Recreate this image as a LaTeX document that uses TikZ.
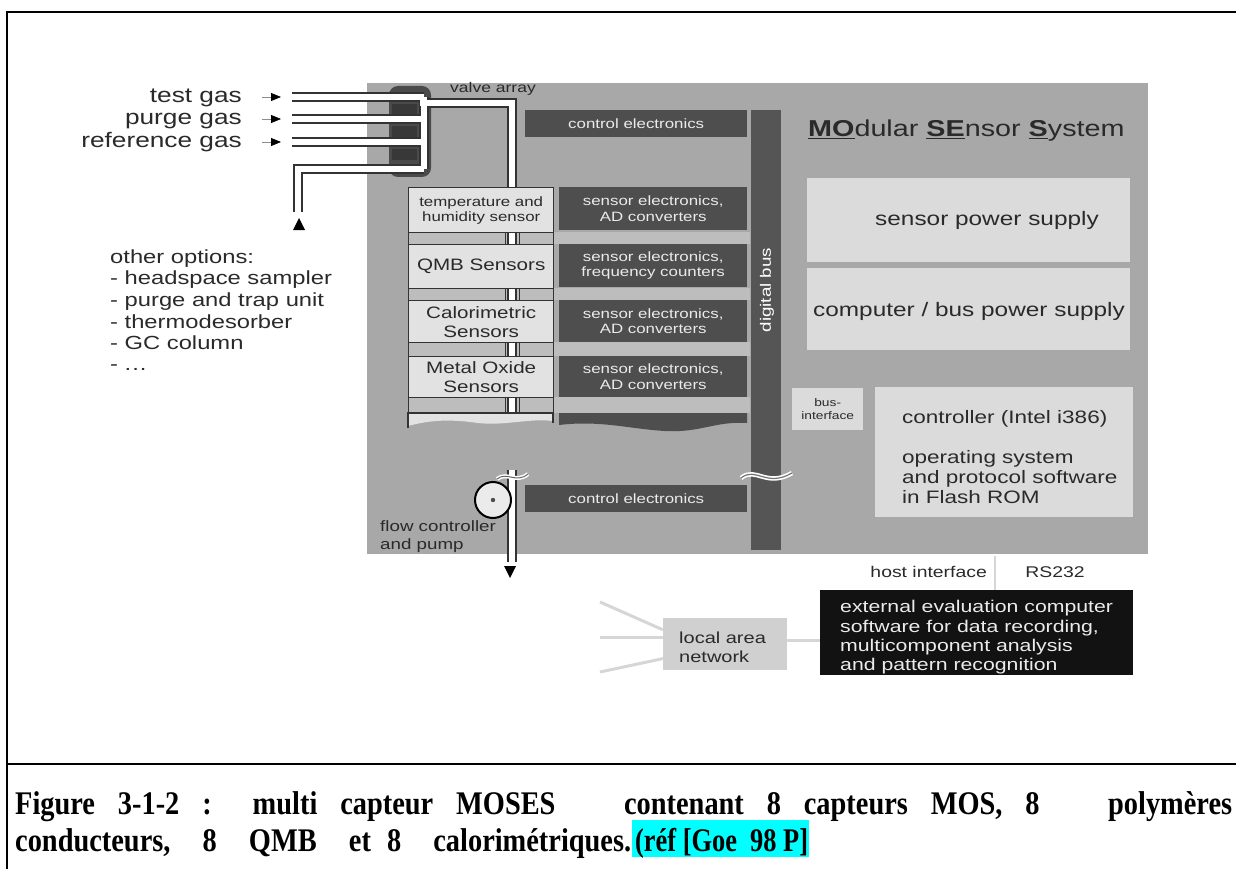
\documentclass[tikz,border=0pt]{standalone}
\usepackage{fontspec}
\setmainfont{Liberation Serif}
\newfontfamily\dfont[FakeStretch=1.25]{Liberation Sans}
\newfontfamily\capfont[FakeStretch=0.86]{Liberation Serif}
\usetikzlibrary{arrows.meta}
\newcommand\dsz[2]{\fontsize{#1pt}{#2pt}\selectfont}
\definecolor{panel}{HTML}{A8A8A8}
\definecolor{lightbox}{HTML}{E2E2E2}
\definecolor{darkbox}{HTML}{4E4E4E}
\definecolor{busc}{HTML}{555555}
\definecolor{band}{HTML}{BDBDBD}
\definecolor{rbox}{HTML}{DBDBDB}
\definecolor{edge}{HTML}{333333}
\definecolor{valvec}{HTML}{4A4A4A}
\definecolor{valvedark}{HTML}{383838}
\definecolor{lanline}{HTML}{D6D6D6}
\definecolor{lanbox}{HTML}{D0D0D0}
\definecolor{ink}{HTML}{2A2A2A}
\definecolor{hl}{HTML}{00FFFF}
\begin{document}
\begin{tikzpicture}[x=1pt,y=-1pt,
  sensorbox/.style={draw=edge, line width=1.4pt, fill=lightbox, text=ink, align=center,
    inner sep=0pt, anchor=north west},
  elecbox/.style={fill=darkbox, text=white!92!black, align=center, inner sep=0pt,
    anchor=north west, font=\dfont\dsz{13.5}{15.5}},
  rightbox/.style={fill=rbox, text=ink, inner sep=0pt, anchor=north west},
  label/.style={text=ink, inner sep=0pt},
  pipeline/.style={line join=miter, line cap=butt},
  captext/.style={anchor=base west, inner sep=0pt, font=\capfont\bfseries\dsz{33}{38}}
]
\useasboundingbox (0,0) rectangle (1236,869);

% page frame and caption rule
\draw[line width=2.6pt] (7,869) -- (7,12) -- (1236,12);
\draw[line width=2.6pt] (7,764) -- (1236,764);

% MOSES housing
\fill[panel] (367,83) rectangle (1148,554);

% valve array block
\fill[valvec, rounded corners=9pt] (389,86) rectangle (431,177);
\foreach \y in {104,126,149} \fill[valvedark] (392,\y) rectangle (417,{\y+11});

% slots between the sensor modules
\foreach \a/\b in {232/244,288/300,342/356,397/413} {
  \fill[band] (408,\a) rectangle (750,\b);
  \draw[edge, line width=1pt] (408,\a) rectangle (505,\b);
  \draw[edge, line width=1pt] (519,\a) rectangle (553,\b);
}

% gas lines: dark walls, then white bore
\foreach \lw/\col in {10/edge,6/white} {
  \draw[pipeline, line width=\lw pt, draw=\col] (292,97) -- (424,97);
  \draw[pipeline, line width=\lw pt, draw=\col] (292,119) -- (424,119);
  \draw[pipeline, line width=\lw pt, draw=\col] (292,142) -- (424,142);
  \draw[pipeline, line width=\lw pt, draw=\col] (298,212) -- (298,169) -- (424,169);
  \draw[pipeline, line width=\lw pt, draw=\col] (424,169) -- (424,97);
  \draw[pipeline, line width=\lw pt, draw=\col] (420,103) -- (512,103) -- (512,413);
  \draw[pipeline, line width=\lw pt, draw=\col] (512,470) -- (512,562);
}

% gas labels and inlet arrows
\foreach \t/\y [count=\i] in {test gas/97,purge gas/119,reference gas/142} {
  \node[label, anchor=base east, font=\dfont\dsz{21}{24}] (gas\i) at (242,{\y+6}) {\t};
  \coordinate (in\i) at (262,\y);
  \draw[black!45, line width=0.8pt, -{Triangle[length=10pt,width=8pt,color=black]}] (in\i) -- ++(19,0);
}
\coordinate (opt) at (299,218);
\fill (opt) -- ++(-6,12) -- ++(12,0) -- cycle;

% further sample inlets
\foreach \t/\y [count=\i] in {other options:/263,- headspace sampler/284,- purge and trap unit/306,
    - thermodesorber/328,- GC column/349}
  \node[label, anchor=base west, font=\dfont\dsz{19}{22}] (optl\i) at (110,\y) {\t};
\node[label, anchor=base west, font=\dfont\dsz{19}{22}] (optl6) at (110,370) {- .\kern1pt.\kern1pt.};

\node[label, font=\dfont\dsz{14}{16}] (valvelbl) at (493,89) {valve array};

% sensor modules
\node[sensorbox, minimum width=145pt, minimum height=45pt, font=\dfont\dsz{13.5}{15}] (thsens) at (408,187)
  {temperature and\\humidity sensor};
\node[sensorbox, minimum width=145pt, minimum height=44pt, font=\dfont\dsz{16.5}{19}] (qmb) at (408,244)
  {QMB Sensors};
\node[sensorbox, minimum width=145pt, minimum height=42pt, font=\dfont\dsz{16.5}{19}] (calo) at (408,300)
  {Calorimetric\\Sensors};
\node[sensorbox, minimum width=145pt, minimum height=41pt, font=\dfont\dsz{16.5}{19}] (mox) at (408,356)
  {Metal Oxide\\Sensors};

% sensor electronics
\node[elecbox, minimum width=188pt, minimum height=43pt] (el1) at (559,187) {sensor electronics,\\AD converters};
\node[elecbox, minimum width=188pt, minimum height=43pt] (el2) at (559,244) {sensor electronics,\\frequency counters};
\node[elecbox, minimum width=188pt, minimum height=42pt] (el3) at (559,300) {sensor electronics,\\AD converters};
\node[elecbox, minimum width=188pt, minimum height=41pt] (el4) at (559,356) {sensor electronics,\\AD converters};

% torn-off module row
\fill[lightbox] (408,413) -- (553,413) -- (553,421) .. controls (530,418) and (505,426) .. (478,423)
  .. controls (450,419) and (430,420) .. (408,426) -- cycle;
\draw[edge, line width=1.4pt] (408,428) -- (408,413) -- (553,413) -- (553,423);
\fill[darkbox] (559,413) -- (747,413) -- (747,423) .. controls (715,421) and (700,433) .. (665,431)
  .. controls (630,429) and (600,420) .. (559,425) -- cycle;

% control electronics
\node[elecbox, minimum width=222pt, minimum height=27pt] (ctl1) at (525,110) {control electronics};
\node[elecbox, minimum width=222pt, minimum height=27pt] (ctl2) at (525,485) {control electronics};

% digital bus
\node[fill=busc, minimum width=30pt, minimum height=440pt, inner sep=0pt, anchor=north west] (bus) at (751,110) {};
\node[rotate=90, text=white, inner sep=0pt, font=\dfont\dsz{15}{17}] (buslbl) at (767,290) {digital bus};
\coordinate (brkA) at (741,478);
\coordinate (brkB) at (792,473);
\draw[white, line width=4.5pt] (brkA) .. controls (756,466) and (766,488) .. (brkB);
\draw[black!55, line width=1.2pt] (brkA) .. controls (756,466) and (766,488) .. (brkB);

% pump section
\coordinate (pbA) at (497,479);
\coordinate (pbB) at (528,474);
\draw[white, line width=4pt] (pbA) .. controls (507,471) and (516,484) .. (pbB);
\draw[black!60, line width=1pt] (pbA) .. controls (507,471) and (516,484) .. (pbB);
\node[circle, draw=black, line width=2pt, fill=black!8, minimum size=36pt, inner sep=0pt] (pump) at (493,500) {};
\fill[black!70] (pump.center) circle (2.2pt);
\node[label, anchor=base west, font=\dfont\dsz{15}{17}] (flow1) at (380,531) {flow controller};
\node[label, anchor=base west, font=\dfont\dsz{15}{17}] (flow2) at (380,549) {and pump};
\coordinate (outlet) at (510,578);
\fill (outlet) -- ++(-6,-12) -- ++(12,0) -- cycle;

% system title
\node[label, anchor=base west, font=\dfont\dsz{23}{25}] (title) at (808,137)
  {\underline{\textbf{MO}}dular \underline{\textbf{SE}}nsor \underline{\textbf{S}}ystem};

% power supplies
\node[rightbox, minimum width=323pt, minimum height=84pt] (sps) at (807,178) {};
\node[label, font=\dfont\dsz{19.5}{22}] (spslbl) at (987,220) {sensor power supply};
\node[rightbox, minimum width=323pt, minimum height=82pt] (cps) at (807,268) {};
\node[label, font=\dfont\dsz{19.5}{22}] (cpslbl) at (969,311) {computer / bus power supply};

% bus interface and controller
\node[rightbox, minimum width=71pt, minimum height=42pt, align=center, font=\dfont\dsz{11}{13}] (busif) at (792,388)
  {bus-\\interface};
\node[rightbox, minimum width=258pt, minimum height=130pt] (cpu) at (875,387) {};
\node[label, anchor=base west, font=\dfont\dsz{18}{20}] (cpul1) at (902,423) {controller (Intel i386)};
\node[label, anchor=base west, font=\dfont\dsz{18}{20}] (cpul2) at (902,463) {operating system};
\node[label, anchor=base west, font=\dfont\dsz{18}{20}] (cpul3) at (902,483) {and protocol software};
\node[label, anchor=base west, font=\dfont\dsz{18}{20}] (cpul4) at (902,503) {in Flash ROM};

% host link
\node[label, anchor=base east, font=\dfont\dsz{15.5}{17}] (hostif) at (987,577) {host interface};
\node[label, anchor=base, font=\dfont\dsz{15.5}{17}] (rs) at (1055,577) {RS232};
\node[fill=black!93, minimum width=313pt, minimum height=85pt, inner sep=0pt, anchor=north west] (ext) at (820,590) {};
\node[anchor=base west, inner sep=0pt, text=white!92!black, font=\dfont\dsz{17}{19}] (extl1) at (840,612) {external evaluation computer};
\node[anchor=base west, inner sep=0pt, text=white!92!black, font=\dfont\dsz{17}{19}] (extl2) at (840,632) {software for data recording,};
\node[anchor=base west, inner sep=0pt, text=white!92!black, font=\dfont\dsz{17}{19}] (extl3) at (840,651) {multicomponent analysis};
\node[anchor=base west, inner sep=0pt, text=white!92!black, font=\dfont\dsz{17}{19}] (extl4) at (840,670) {and pattern recognition};
\coordinate (hostpt) at (995,556);
\draw[lanline, line width=1.5pt] (hostpt) -- (hostpt |- ext.north);

% local area network
\node[fill=lanbox, minimum width=124pt, minimum height=52pt, inner sep=0pt, anchor=north west] (lan) at (663,618) {};
\node[label, anchor=base west, font=\dfont\dsz{16}{18}] (lan1) at (679,643) {local area};
\node[label, anchor=base west, font=\dfont\dsz{16}{18}] (lan2) at (679,662) {network};
\coordinate (net1) at (600,602);
\coordinate (net2) at (600,637);
\coordinate (net3) at (600,672);
\draw[lanline, line width=3pt] (net1) -- (lan.167);
\draw[lanline, line width=3pt] (net2) -- (lan.west |- net2);
\draw[lanline, line width=3pt] (net3) -- (lan.193);
\draw[lanline, line width=3pt] (lan.east |- 0,640) -- (ext.west |- 0,640);

% caption
\fill[hl] (632,820) rectangle (809,857);
\node[captext] (cap1) at (15,814)
  {\makebox[1217pt][s]{Figure 3-1-2 : multi capteur MOSES\ \ \ contenant 8 capteurs MOS, 8\ \ \ polymères}};
\node[captext] (cap2) at (15,851)
  {\makebox[616pt][s]{conducteurs,\ \ 8\ \ QMB\ \ et 8\ \ calorimétriques.}};
\node[captext] (cap3) at (635,851)
  {\scalebox{0.93}[1]{(réf [Goe\ \ 98 P]}};
\end{tikzpicture}
\end{document}
